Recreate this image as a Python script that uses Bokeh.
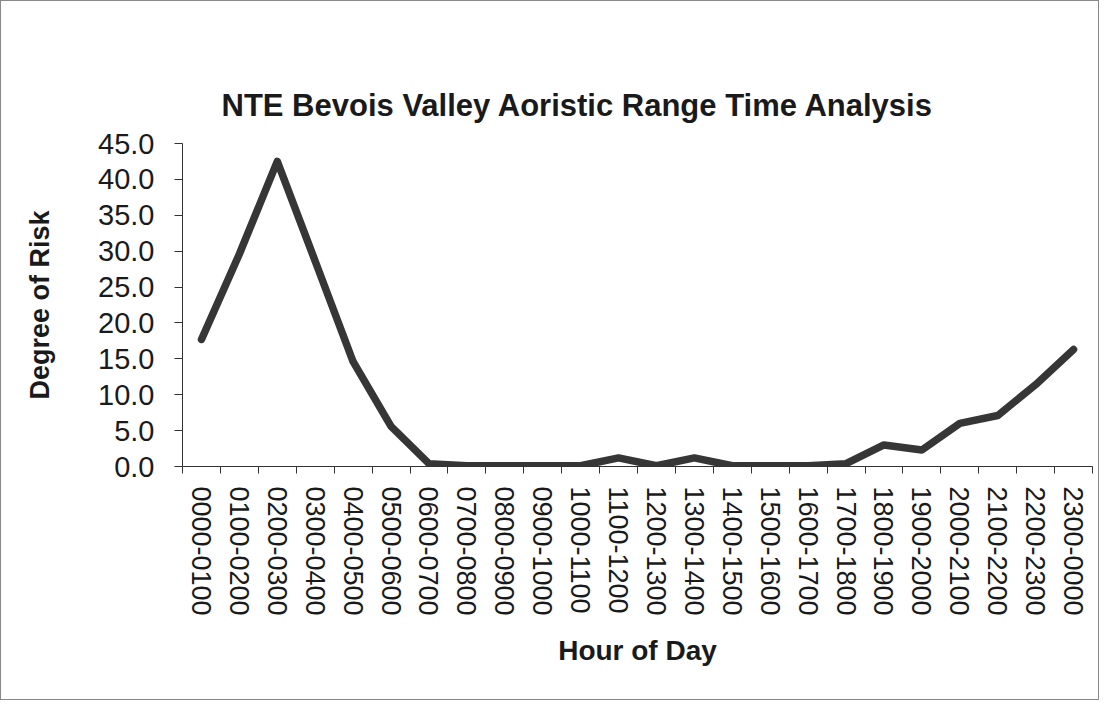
from bokeh.plotting import figure
from bokeh.models import Range1d, FixedTicker, NumeralTickFormatter, ColumnDataSource, Title
from bokeh.embed import file_html
from bokeh.resources import INLINE

hours = ["0000-0100", "0100-0200", "0200-0300", "0300-0400", "0400-0500", "0500-0600",
         "0600-0700", "0700-0800", "0800-0900", "0900-1000", "1000-1100", "1100-1200",
         "1200-1300", "1300-1400", "1400-1500", "1500-1600", "1600-1700", "1700-1800",
         "1800-1900", "1900-2000", "2000-2100", "2100-2200", "2200-2300", "2300-0000"]
risk = [17.7, 29.6, 42.5, 28.6, 14.6, 5.6, 0.4, 0.1, 0.1, 0.1, 0.1, 1.2,
        0.1, 1.2, 0.1, 0.1, 0.1, 0.4, 3.0, 2.3, 6.0, 7.1, 11.4, 16.3]
y_ticks = [0, 5, 10, 15, 20, 25, 30, 35, 40, 45]
title_text = "NTE Bevois Valley Aoristic Range Time Analysis"

xpos = [i + 0.5 for i in range(len(hours))]
src = ColumnDataSource(dict(x=xpos, y=risk, label=hours))

FONT = "Liberation Sans"

p = figure(width=1099, height=700, output_backend="svg", toolbar_location=None,
           x_range=Range1d(0, len(hours)), y_range=Range1d(0, 45), title_location=None)

p.outline_line_color = None
p.border_fill_color = "white"
p.background_fill_color = "white"
p.xgrid.visible = False
p.ygrid.visible = False

# title first (outermost), then an empty spacer nearer the plot area
main_title = Title(text=title_text, text_font=FONT, text_font_size="31px",
                   text_font_style="bold", text_color="#1a1a1a", align="left",
                   offset=39, vertical_align="top", standoff=38)
p.add_layout(main_title, "above")

spacer = Title(text="", text_font_size="1px", standoff=64)
p.add_layout(spacer, "above")

p.line("x", "y", source=src, line_width=7.5, line_color="#363636",
       line_join="round", line_cap="round")

# x axis
p.xaxis.ticker = FixedTicker(ticks=xpos, minor_ticks=list(range(len(hours) + 1)))
p.xaxis.major_label_overrides = {x: h for x, h in zip(xpos, hours)}
p.xaxis.major_label_orientation = "vertical"
p.xaxis.major_tick_out = 0
p.xaxis.major_tick_in = 0
p.xaxis.minor_tick_out = 7
p.xaxis.minor_tick_in = 0
p.xaxis.major_label_standoff = 13
p.xaxis.major_label_text_font = FONT
p.xaxis.major_label_text_font_size = "27px"
p.xaxis.major_label_text_color = "#1a1a1a"
p.xaxis.axis_label = "Hour of Day"
p.xaxis.axis_label_text_font = FONT
p.xaxis.axis_label_text_font_size = "28px"
p.xaxis.axis_label_text_font_style = "bold"
p.xaxis.axis_label_text_color = "#1a1a1a"
p.xaxis.axis_label_standoff = 16
p.xaxis.axis_line_color = "#333333"
p.xaxis.minor_tick_line_color = "#333333"

# y axis
p.yaxis.ticker = FixedTicker(ticks=y_ticks, minor_ticks=[])
p.yaxis.formatter = NumeralTickFormatter(format="0.0")
p.yaxis.major_tick_out = 8
p.yaxis.major_tick_in = 0
p.yaxis.major_label_standoff = 20
p.yaxis.major_label_text_font = FONT
p.yaxis.major_label_text_font_size = "29px"
p.yaxis.major_label_text_color = "#1a1a1a"
p.yaxis.axis_label = "Degree of Risk"
p.yaxis.axis_label_text_font = FONT
p.yaxis.axis_label_text_font_size = "27px"
p.yaxis.axis_label_text_font_style = "bold"
p.yaxis.axis_label_text_color = "#1a1a1a"
p.yaxis.axis_label_standoff = 40
p.yaxis.axis_line_color = "#333333"
p.yaxis.major_tick_line_color = "#333333"

# layout of the frame
p.min_border = 0
p.min_border_left = 181
p.min_border_right = 8
p.min_border_top = 142
p.min_border_bottom = 235
p.styles = {"border": "1px solid #888888"}

open("out.html", "w").write(file_html(p, INLINE))
